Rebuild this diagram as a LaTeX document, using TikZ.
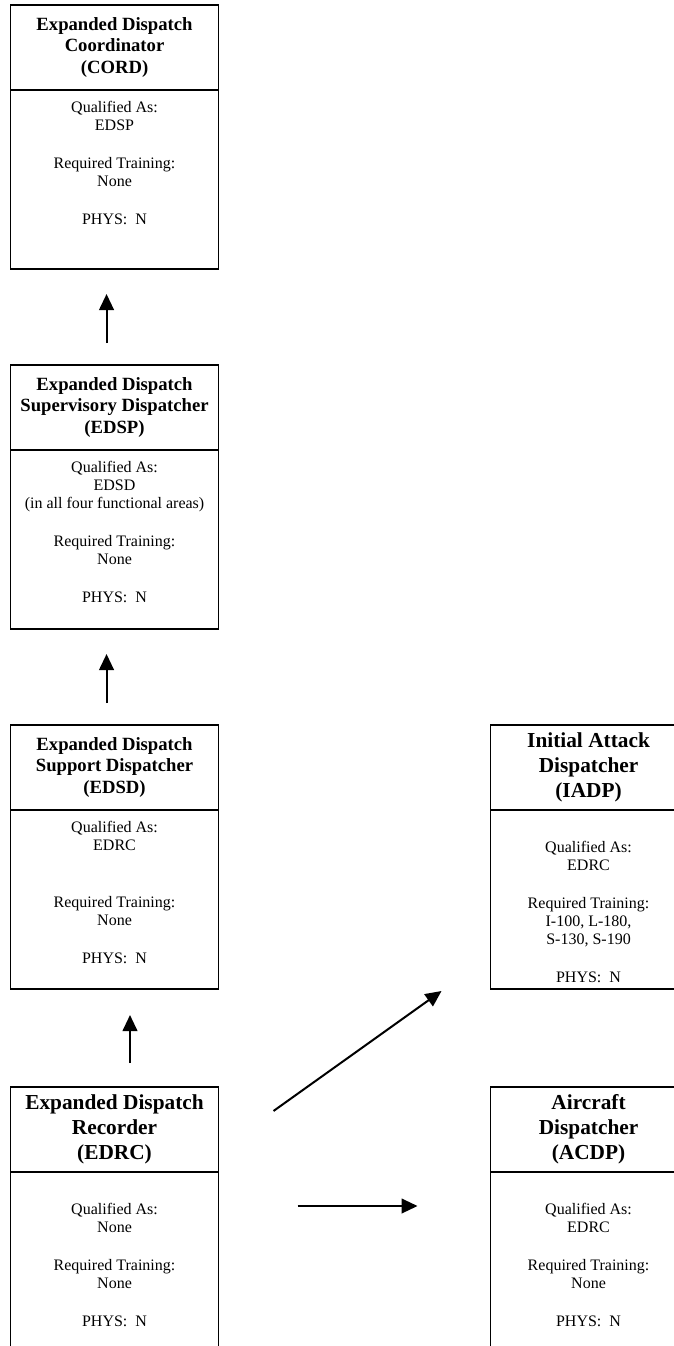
\documentclass[tikz,border=0pt]{standalone}
\usepackage{fontspec}
\setmainfont{Liberation Serif}
\usepackage{tikz}
\usetikzlibrary{arrows.meta, positioning, calc}

\begin{document}
\begin{tikzpicture}[
      x=1pt, y=1pt,
      node distance=72pt and 204pt,
      head/.style={
          draw,
          line width=1.2pt,
          outer sep=0pt,
          minimum width=156pt,
          minimum height=63.75pt,
          align=center,
          font=\fontsize{14}{16.1}\selectfont\bfseries
      },
      bighead/.style={head, font=\fontsize{16}{18.75}\selectfont\bfseries},
      body/.style={
          draw,
          line width=1.2pt,
          outer sep=0pt,
          minimum width=156pt,
          minimum height=134.25pt
      },
      narrow/.style={minimum width=147pt},
      info/.style={inner sep=0pt, align=center, font=\fontsize{12}{13.5}\selectfont},
      arrow/.style={-{Triangle[length=12pt, width=11pt]}, line width=1.5pt}
  ]

  \useasboundingbox (0,0) rectangle (505.5,-1009.5);
  \clip (0,0) rectangle (505.5,-1009.5);

  % ══════════════════════════════
  % COLONNE 1 : CORD, EDSP, EDSD, EDRC
  % ══════════════════════════════
  \node[head, anchor=north west] (cord) at (7.9,-3.75)
      {Expanded Dispatch\\Coordinator\\(CORD)};
  \node[body, below=0pt of cord] (cord-body) {};
  \node[info, below=8.5pt of cord-body.north] (cord-info)
      {Qualified As:\\EDSP\\[15pt]Required Training:\\None\\[15pt]PHYS:~~N};

  \node[head, below=of cord-body] (edsp)
      {Expanded Dispatch\\Supervisory Dispatcher\\(EDSP)};
  \node[body, below=0pt of edsp] (edsp-body) {};
  \node[info, below=8.5pt of edsp-body.north] (edsp-info)
      {Qualified As:\\EDSD\\(in all four functional areas)\\[15pt]Required Training:\\None\\[15pt]PHYS:~~N};

  \node[head, below=of edsp-body] (edsd)
      {Expanded Dispatch\\Support Dispatcher\\(EDSD)};
  \node[body, below=0pt of edsd] (edsd-body) {};
  \node[info, below=8.5pt of edsd-body.north] (edsd-info)
      {Qualified As:\\EDRC\\[29pt]Required Training:\\None\\[15pt]PHYS:~~N};

  \node[bighead, below=73.5pt of edsd-body] (edrc)
      {Expanded Dispatch\\Recorder\\(EDRC)};
  \node[body, below=0pt of edrc] (edrc-body) {};
  \node[info, below=23.5pt of edrc-body.north] (edrc-info)
      {Qualified As:\\None\\[15pt]Required Training:\\None\\[15pt]PHYS:~~N};

  % ══════════════════════════════
  % COLONNE 2 : IADP, ACDP
  % ══════════════════════════════
  \node[bighead, narrow, right=of edsd] (iadp)
      {Initial Attack\\Dispatcher\\(IADP)};
  \node[body, narrow, below=0pt of iadp] (iadp-body) {};
  \node[info, below=23.5pt of iadp-body.north] (iadp-info)
      {Qualified As:\\EDRC\\[15pt]Required Training:\\I-100, L-180,\\S-130, S-190\\[15pt]PHYS:~~N};

  \node[bighead, narrow, right=of edrc] (acdp)
      {Aircraft\\Dispatcher\\(ACDP)};
  \node[body, narrow, below=0pt of acdp] (acdp-body) {};
  \node[info, below=23.5pt of acdp-body.north] (acdp-info)
      {Qualified As:\\EDRC\\[15pt]Required Training:\\None\\[15pt]PHYS:~~N};

  % ══════════════════════════════
  % FLÈCHES
  % ══════════════════════════════
  \draw[arrow, shorten <=16.5pt, shorten >=18.75pt]
      ([xshift=-6pt]edsp.north) -- ([xshift=-6pt]cord-body.south);

  \draw[arrow, shorten <=16.5pt, shorten >=18.75pt]
      ([xshift=-6pt]edsd.north) -- ([xshift=-6pt]edsp-body.south);

  \draw[arrow, shorten <=18pt, shorten >=19.5pt]
      ([xshift=11.6pt]edrc.north) -- ([xshift=11.6pt]edsd-body.south);

  \draw[arrow]
      ([shift={(41.25pt,13.9pt)}]edrc.east) -- ([shift={(-36.75pt,-1.5pt)}]iadp-body.south west);

  \draw[arrow, shorten <=59.25pt, shorten >=54.75pt]
      ([yshift=-25.5pt]edrc-body.north east) -- ([yshift=-25.5pt]acdp-body.north west);

  \end{tikzpicture}
\end{document}
